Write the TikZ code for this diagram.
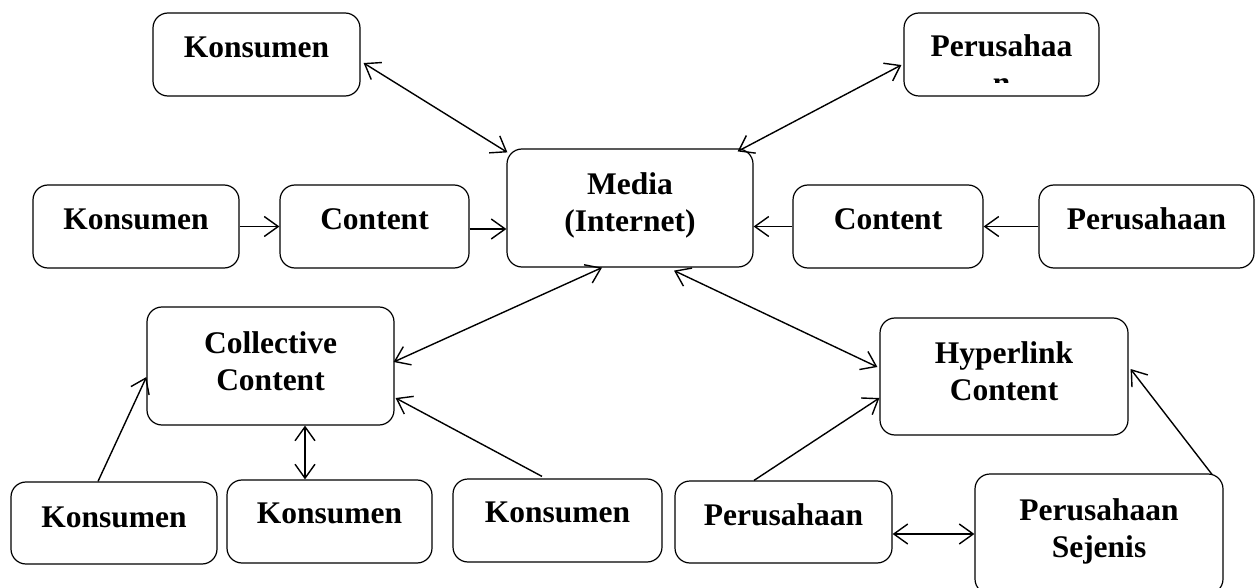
\documentclass[tikz,border=0pt]{standalone}
\usepackage{fontspec}
\setmainfont{Liberation Serif}
\usetikzlibrary{arrows.meta}
\tikzset{
  box/.style={draw, rounded corners=15pt, line width=1.2pt, inner sep=0pt},
  lbl/.style={font=\bfseries\fontsize{31.5}{37}\selectfont, inner sep=0pt, anchor=base},
  arr/.style={line width=1.4pt, -{Straight Barb[length=14pt,width=20pt,line width=1.4pt]}},
  darr/.style={line width=1.4pt, {Straight Barb[length=14pt,width=20pt,line width=1.4pt]}-{Straight Barb[length=14pt,width=20pt,line width=1.4pt]}}
}
\begin{document}
\begin{tikzpicture}[x=1pt,y=-1pt]
\clip (0,0) rectangle (1259,588);
\fill[white] (0,0) rectangle (1259,588);
% boxes
\node[box, minimum width=207pt, minimum height=83pt] (kTop) at (256.5,54.5) {};
\node[box, minimum width=195pt, minimum height=83pt] (pTop) at (1001.5,54.5) {};
\node[box, minimum width=246pt, minimum height=118pt] (media) at (630,208) {};
\node[box, minimum width=206pt, minimum height=83pt] (kMid) at (136,226.5) {};
\node[box, minimum width=189pt, minimum height=83pt] (cL) at (374.5,226.5) {};
\node[box, minimum width=190pt, minimum height=83pt] (cR) at (888,226.5) {};
\node[box, minimum width=215pt, minimum height=83pt] (pR) at (1146.5,226.5) {};
\node[box, minimum width=247pt, minimum height=118pt] (coll) at (270.5,366) {};
\node[box, minimum width=248pt, minimum height=117pt] (hyp) at (1004,376.5) {};
\node[box, minimum width=206pt, minimum height=82pt] (k1) at (114,523) {};
\node[box, minimum width=205pt, minimum height=83pt] (k2) at (329.5,521.5) {};
\node[box, minimum width=209pt, minimum height=83pt] (k3) at (557.5,520.5) {};
\node[box, minimum width=217pt, minimum height=82pt] (pB) at (783.5,522) {};
\node[box, minimum width=248pt, minimum height=120pt] (sej) at (1099,534) {};
% texts
\node[lbl] (kTopT) at (256.5,58) {Konsumen};
\begin{scope}
\clip (904,13) rectangle (1099,83);
\node[lbl] (pTopT1) at (1001.5,57) {Perusahaa};
\node[lbl] (pTopT2) at (1001.5,94) {n};
\end{scope}
\node[lbl] (mediaT1) at (630,195) {Media};
\node[lbl] (mediaT2) at (630,232) {(Internet)};
\node[lbl] (kMidT) at (136,230) {Konsumen};
\node[lbl] (cLT) at (374.5,230) {Content};
\node[lbl] (cRT) at (888,230) {Content};
\node[lbl] (pRT) at (1146.5,230) {Perusahaan};
\node[lbl] (collT1) at (270.5,353) {Collective};
\node[lbl] (collT2) at (270.5,390) {Content};
\node[lbl] (hypT1) at (1004,363) {Hyperlink};
\node[lbl] (hypT2) at (1004,400) {Content};
\node[lbl] (k1T) at (114,527) {Konsumen};
\node[lbl] (k2T) at (329.5,523) {Konsumen};
\node[lbl] (k3T) at (557.5,522) {Konsumen};
\node[lbl] (pBT) at (783.5,525) {Perusahaan};
\node[lbl] (sejT1) at (1099,520) {Perusahaan};
\node[lbl] (sejT2) at (1099,557) {Sejenis};
% connectors
\draw[darr] ([xshift=3pt,yshift=-8.5pt]kTop.east) -- ([xshift=1pt,yshift=-4pt]media.north west);
\draw[darr] ([xshift=-2pt,yshift=-10.5pt]pTop.west) -- ([xshift=-16pt,yshift=-3pt]media.north east);
\draw[arr] (kMid.east) -- (cL.west);
\draw[arr] ([yshift=-2.5pt]cL.east) -- ([yshift=-2.5pt]cL.east -| media.west);
\draw[arr] (cR.west) -- (cR.west -| media.east);
\draw[arr] (pR.west) -- (cR.east);
\draw[darr] ([xshift=-28pt]media.south) -- ([xshift=-1pt,yshift=4pt]coll.east);
\draw[darr] ([xshift=44pt,yshift=-3pt]media.south) -- ([xshift=-2pt,yshift=9.5pt]hyp.west);
\draw[arr] ([xshift=-16pt]k1.north) -- ([yshift=-11pt]coll.west);
\draw[darr] ([xshift=34.5pt]coll.south) -- ([xshift=34.5pt]coll.south |- k2.north);
\draw[arr] ([xshift=-15.5pt,yshift=2pt]k3.north) -- ([xshift=1pt,yshift=-32pt]coll.east);
\draw[arr] ([xshift=-29.5pt]pB.north) -- ([yshift=-21.5pt]hyp.west);
\draw[arr] ([xshift=113pt,yshift=-1pt]sej.north) -- ([xshift=2pt,yshift=7.5pt]hyp.east);
\draw[darr] ([yshift=-12pt]pB.east) -- ([yshift=-12pt]pB.east -| sej.west);
\end{tikzpicture}
\end{document}
